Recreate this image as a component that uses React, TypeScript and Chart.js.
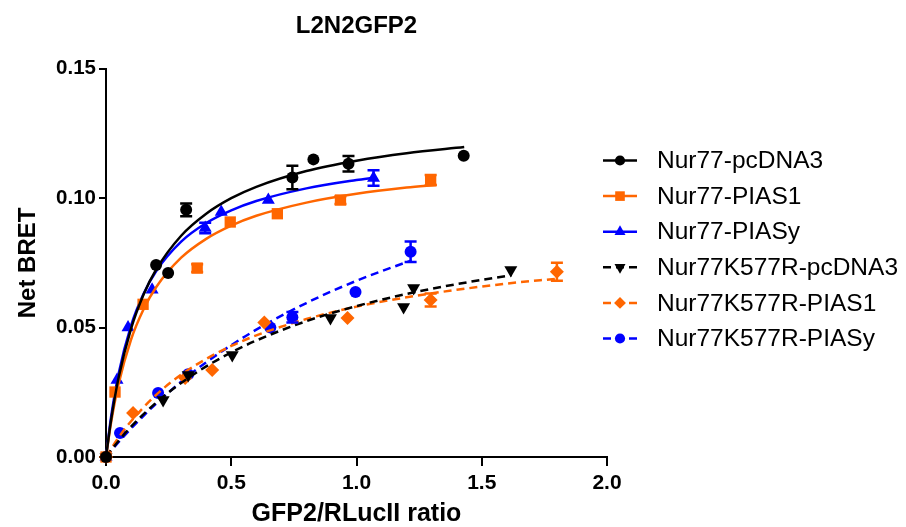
import React, { useEffect, useRef } from 'react';
import { Chart, registerables } from 'chart.js';

Chart.register(...registerables);

const FONT = "'Liberation Sans', Arial, Helvetica, sans-serif";

const chartTitle = 'L2N2GFP2';
const xAxisTitle = 'GFP2/RLucII ratio';
const yAxisTitle = 'Net BRET';
const xTickLabels = ['0.0', '0.5', '1.0', '1.5', '2.0'];
const yTickLabels = ['0.00', '0.05', '0.10', '0.15'];

const seriesLabels = [
  'Nur77-pcDNA3',
  'Nur77-PIAS1',
  'Nur77-PIASy',
  'Nur77K577R-pcDNA3',
  'Nur77K577R-PIAS1',
  'Nur77K577R-PIASy',
];

// measured points (x, y, sem)
const pcdnaX = [0, 0.2, 0.248, 0.32, 0.744, 0.828, 0.968, 1.428];
const pcdnaY = [0, 0.0742, 0.0711, 0.0955, 0.108, 0.115, 0.1133, 0.1164];
const pcdnaErr = [0, 0, 0, 0.0025, 0.0045, 0, 0.003, 0];

const pias1X = [0, 0.036, 0.148, 0.364, 0.496, 0.684, 0.936, 1.296];
const pias1Y = [0, 0.0251, 0.059, 0.073, 0.0908, 0.094, 0.0993, 0.107];
const pias1Err = [0, 0, 0, 0.0015, 0, 0, 0.0015, 0.002];

const piasyX = [0, 0.044, 0.088, 0.184, 0.396, 0.46, 0.648, 1.068];
const piasyY = [0, 0.0298, 0.05, 0.0646, 0.0885, 0.0947, 0.0993, 0.1078];
const piasyErr = [0, 0, 0, 0, 0.002, 0, 0, 0.003];

const kPcdnaX = [0, 0.228, 0.328, 0.504, 0.896, 1.188, 1.228, 1.616];
const kPcdnaY = [0, 0.022, 0.0317, 0.0394, 0.0537, 0.058, 0.0653, 0.0723];
const kPcdnaErr = [0, 0, 0, 0, 0, 0, 0, 0];

const kPias1X = [0, 0.108, 0.316, 0.424, 0.632, 0.964, 1.296, 1.8];
const kPias1Y = [0, 0.017, 0.0305, 0.0336, 0.052, 0.0537, 0.0607, 0.0716];
const kPias1Err = [0, 0, 0, 0, 0, 0, 0.0025, 0.0035];

const kPiasyX = [0, 0.056, 0.208, 0.328, 0.656, 0.744, 0.996, 1.216];
const kPiasyY = [0, 0.0093, 0.0247, 0.032, 0.05, 0.054, 0.0638, 0.0793];
const kPiasyErr = [0, 0, 0, 0, 0, 0.002, 0, 0.004];

// fitted curves
const pcdnaCurveX = [0, 0.02, 0.05, 0.1, 0.15, 0.2, 0.3, 0.4, 0.5, 0.6, 0.8, 1.0, 1.2, 1.43];
const pcdnaCurveY = [0, 0.0141, 0.0305, 0.0496, 0.0628, 0.0724, 0.0855, 0.094, 0.1, 0.1044, 0.1105, 0.1145, 0.1174, 0.1198];

const pias1CurveX = [0, 0.02, 0.05, 0.1, 0.15, 0.2, 0.3, 0.4, 0.5, 0.6, 0.8, 1.0, 1.2, 1.32];
const pias1CurveY = [0, 0.0131, 0.0281, 0.0454, 0.0571, 0.0656, 0.077, 0.0843, 0.0894, 0.0932, 0.0983, 0.1017, 0.1041, 0.1052];

const piasyCurveX = [0, 0.02, 0.05, 0.1, 0.15, 0.2, 0.3, 0.4, 0.5, 0.6, 0.8, 1.0, 1.07];
const piasyCurveY = [0, 0.0153, 0.0321, 0.0508, 0.0631, 0.0718, 0.0832, 0.0904, 0.0953, 0.0989, 0.1038, 0.107, 0.1079];

const kPcdnaCurveX = [0, 0.05, 0.1, 0.2, 0.3, 0.4, 0.5, 0.6, 0.8, 1.0, 1.2, 1.4, 1.62];
const kPcdnaCurveY = [0, 0.0062, 0.0117, 0.021, 0.0286, 0.035, 0.0404, 0.045, 0.0525, 0.0583, 0.063, 0.0668, 0.0703];

const kPias1CurveX = [0, 0.05, 0.1, 0.2, 0.3, 0.4, 0.5, 0.6, 0.8, 1.0, 1.2, 1.4, 1.6, 1.8];
const kPias1CurveY = [0, 0.0075, 0.0138, 0.024, 0.0318, 0.0379, 0.0429, 0.047, 0.0533, 0.0581, 0.0617, 0.0646, 0.067, 0.0689];

const kPiasyCurveX = [0, 0.05, 0.1, 0.2, 0.3, 0.4, 0.5, 0.6, 0.8, 1.0, 1.22];
const kPiasyCurveY = [0, 0.0057, 0.011, 0.0206, 0.0291, 0.0366, 0.0432, 0.0492, 0.0595, 0.0681, 0.076];

const BLACK = '#000000';
const ORANGE = '#FF6600';
const BLUE = '#0000FF';

type Marker = 'circle' | 'rect' | 'triangle' | 'rectRot';

interface SeriesDef {
  label: string;
  color: string;
  dashed: boolean;
  marker: Marker;
  rotation: number;
  radius: number;
  px: number[];
  py: number[];
  err: number[];
  cx: number[];
  cy: number[];
}

const series: SeriesDef[] = [
  { label: seriesLabels[0], color: BLACK, dashed: false, marker: 'circle', rotation: 0, radius: 6, px: pcdnaX, py: pcdnaY, err: pcdnaErr, cx: pcdnaCurveX, cy: pcdnaCurveY },
  { label: seriesLabels[1], color: ORANGE, dashed: false, marker: 'rect', rotation: 0, radius: 8, px: pias1X, py: pias1Y, err: pias1Err, cx: pias1CurveX, cy: pias1CurveY },
  { label: seriesLabels[2], color: BLUE, dashed: false, marker: 'triangle', rotation: 0, radius: 7.5, px: piasyX, py: piasyY, err: piasyErr, cx: piasyCurveX, cy: piasyCurveY },
  { label: seriesLabels[3], color: BLACK, dashed: true, marker: 'triangle', rotation: 180, radius: 7.5, px: kPcdnaX, py: kPcdnaY, err: kPcdnaErr, cx: kPcdnaCurveX, cy: kPcdnaCurveY },
  { label: seriesLabels[4], color: ORANGE, dashed: true, marker: 'rectRot', rotation: 0, radius: 7, px: kPias1X, py: kPias1Y, err: kPias1Err, cx: kPias1CurveX, cy: kPias1CurveY },
  { label: seriesLabels[5], color: BLUE, dashed: true, marker: 'circle', rotation: 0, radius: 6, px: kPiasyX, py: kPiasyY, err: kPiasyErr, cx: kPiasyCurveX, cy: kPiasyCurveY },
];

function drawMarker(ctx: CanvasRenderingContext2D, m: Marker, x: number, y: number, r: number, rotationDeg: number) {
  const rad = (rotationDeg * Math.PI) / 180;
  ctx.beginPath();
  if (m === 'circle') {
    ctx.arc(x, y, r, 0, Math.PI * 2);
  } else if (m === 'rect') {
    const s = r * Math.SQRT1_2;
    ctx.rect(x - s, y - s, 2 * s, 2 * s);
  } else if (m === 'triangle') {
    let a = rad;
    ctx.moveTo(x + Math.sin(a) * r, y - Math.cos(a) * r);
    a += (2 * Math.PI) / 3;
    ctx.lineTo(x + Math.sin(a) * r, y - Math.cos(a) * r);
    a += (2 * Math.PI) / 3;
    ctx.lineTo(x + Math.sin(a) * r, y - Math.cos(a) * r);
    ctx.closePath();
  } else {
    ctx.moveTo(x, y - r);
    ctx.lineTo(x + r, y);
    ctx.lineTo(x, y + r);
    ctx.lineTo(x - r, y);
    ctx.closePath();
  }
  ctx.fill();
}

const errorBarPlugin = {
  id: 'errorBars',
  afterDatasetsDraw(chart: any) {
    const ctx: CanvasRenderingContext2D = chart.ctx;
    const yScale = chart.scales.y;
    series.forEach((s, si) => {
      const meta = chart.getDatasetMeta(si * 2 + 1);
      ctx.save();
      ctx.strokeStyle = s.color;
      ctx.lineWidth = 2.5;
      s.err.forEach((e, i) => {
        if (!e) return;
        const el = meta.data[i];
        const x = el.x;
        const yTop = yScale.getPixelForValue(s.py[i] + e);
        const yBot = yScale.getPixelForValue(s.py[i] - e);
        ctx.beginPath();
        ctx.moveTo(x, yTop);
        ctx.lineTo(x, yBot);
        ctx.moveTo(x - 6, yTop);
        ctx.lineTo(x + 6, yTop);
        ctx.moveTo(x - 6, yBot);
        ctx.lineTo(x + 6, yBot);
        ctx.stroke();
      });
      ctx.restore();
    });
  },
};

const legendPlugin = {
  id: 'customLegend',
  afterDraw(chart: any) {
    const ctx: CanvasRenderingContext2D = chart.ctx;
    const x0 = 603;
    const x1 = 637;
    const xm = 620;
    const tx = 657;
    const y0 = 160.5;
    const dy = 35.6;
    ctx.save();
    series.forEach((s, i) => {
      const y = y0 + i * dy;
      ctx.strokeStyle = s.color;
      ctx.fillStyle = s.color;
      ctx.lineWidth = 2.5;
      ctx.setLineDash(s.dashed ? [8, 5] : []);
      ctx.beginPath();
      ctx.moveTo(x0, y);
      ctx.lineTo(x1, y);
      ctx.stroke();
      ctx.setLineDash([]);
      drawMarker(ctx, s.marker, xm, y, s.radius * 0.85, s.rotation);
      ctx.fillStyle = '#000';
      ctx.font = `24.5px ${FONT}`;
      ctx.textBaseline = 'middle';
      ctx.textAlign = 'left';
      ctx.fillText(s.label, tx, y + 1);
    });
    ctx.restore();
  },
};

export default function App() {
  const ref = useRef<HTMLCanvasElement | null>(null);

  useEffect(() => {
    if (!ref.current) return;
    const datasets: any[] = [];
    series.forEach((s) => {
      datasets.push({
        type: 'line',
        label: s.label + ' fit',
        data: s.cx.map((x, i) => ({ x, y: s.cy[i] })),
        borderColor: s.color,
        borderWidth: 2.5,
        borderDash: s.dashed ? [8, 5] : [],
        pointRadius: 0,
        fill: false,
        tension: 0.4,
        cubicInterpolationMode: 'monotone',
        showLine: true,
        clip: false,
      });
      datasets.push({
        type: 'scatter',
        label: s.label,
        data: s.px.map((x, i) => ({ x, y: s.py[i] })),
        backgroundColor: s.color,
        borderColor: s.color,
        pointBackgroundColor: s.color,
        pointBorderColor: s.color,
        pointBorderWidth: 0,
        pointRadius: s.radius,
        pointStyle: s.marker,
        pointRotation: s.rotation,
        showLine: false,
        clip: false,
      });
    });

    const chart = new Chart(ref.current, {
      type: 'scatter',
      data: { datasets },
      options: {
        animation: false,
        responsive: false,
        devicePixelRatio: 1,
        layout: { padding: { left: 0, right: 299, top: 0, bottom: 0 } },
        plugins: {
          legend: { display: false },
          tooltip: { enabled: false },
          title: {
            display: true,
            text: chartTitle,
            fullSize: false,
            color: '#000',
            font: { family: FONT, size: 24, weight: 'bold', lineHeight: 1.2 },
            padding: { top: 12, bottom: 28 },
          },
        },
        scales: {
          x: {
            type: 'linear',
            min: 0,
            max: 2,
            afterFit: (s: any) => {
              s.height = 70;
            },
            ticks: {
              stepSize: 0.5,
              autoSkip: false,
              maxRotation: 0,
              color: '#000',
              padding: 5,
              font: { family: FONT, size: 21, weight: 'bold' },
              callback: (_v: any, i: number) => xTickLabels[i],
            },
            grid: { drawOnChartArea: false, drawTicks: true, tickLength: 9, color: '#000', lineWidth: 2 },
            border: { display: true, color: '#000', width: 2 },
            title: {
              display: true,
              text: xAxisTitle,
              color: '#000',
              font: { family: FONT, size: 25, weight: 'bold', lineHeight: 1 },
              padding: { top: 0, bottom: 0 },
            },
          },
          y: {
            type: 'linear',
            min: 0,
            max: 0.15,
            afterFit: (s: any) => {
              s.width = 106;
            },
            ticks: {
              stepSize: 0.05,
              autoSkip: false,
              color: '#000',
              padding: 3,
              font: { family: FONT, size: 20.5, weight: 'bold' },
              callback: (_v: any, i: number) => yTickLabels[i],
            },
            grid: { drawOnChartArea: false, drawTicks: true, tickLength: 7, color: '#000', lineWidth: 2 },
            border: { display: true, color: '#000', width: 2 },
            title: {
              display: true,
              text: yAxisTitle,
              color: '#000',
              font: { family: FONT, size: 24, weight: 'bold', lineHeight: 1 },
              padding: { top: 16, bottom: 0 },
            },
          },
        },
      },
      plugins: [errorBarPlugin, legendPlugin],
    } as any);

    return () => chart.destroy();
  }, []);

  return (
    <div style={{ position: 'absolute', left: 0, top: 0, width: 906, height: 527, background: '#fff' }}>
      <canvas ref={ref} width={906} height={527} style={{ display: 'block' }} />
    </div>
  );
}
